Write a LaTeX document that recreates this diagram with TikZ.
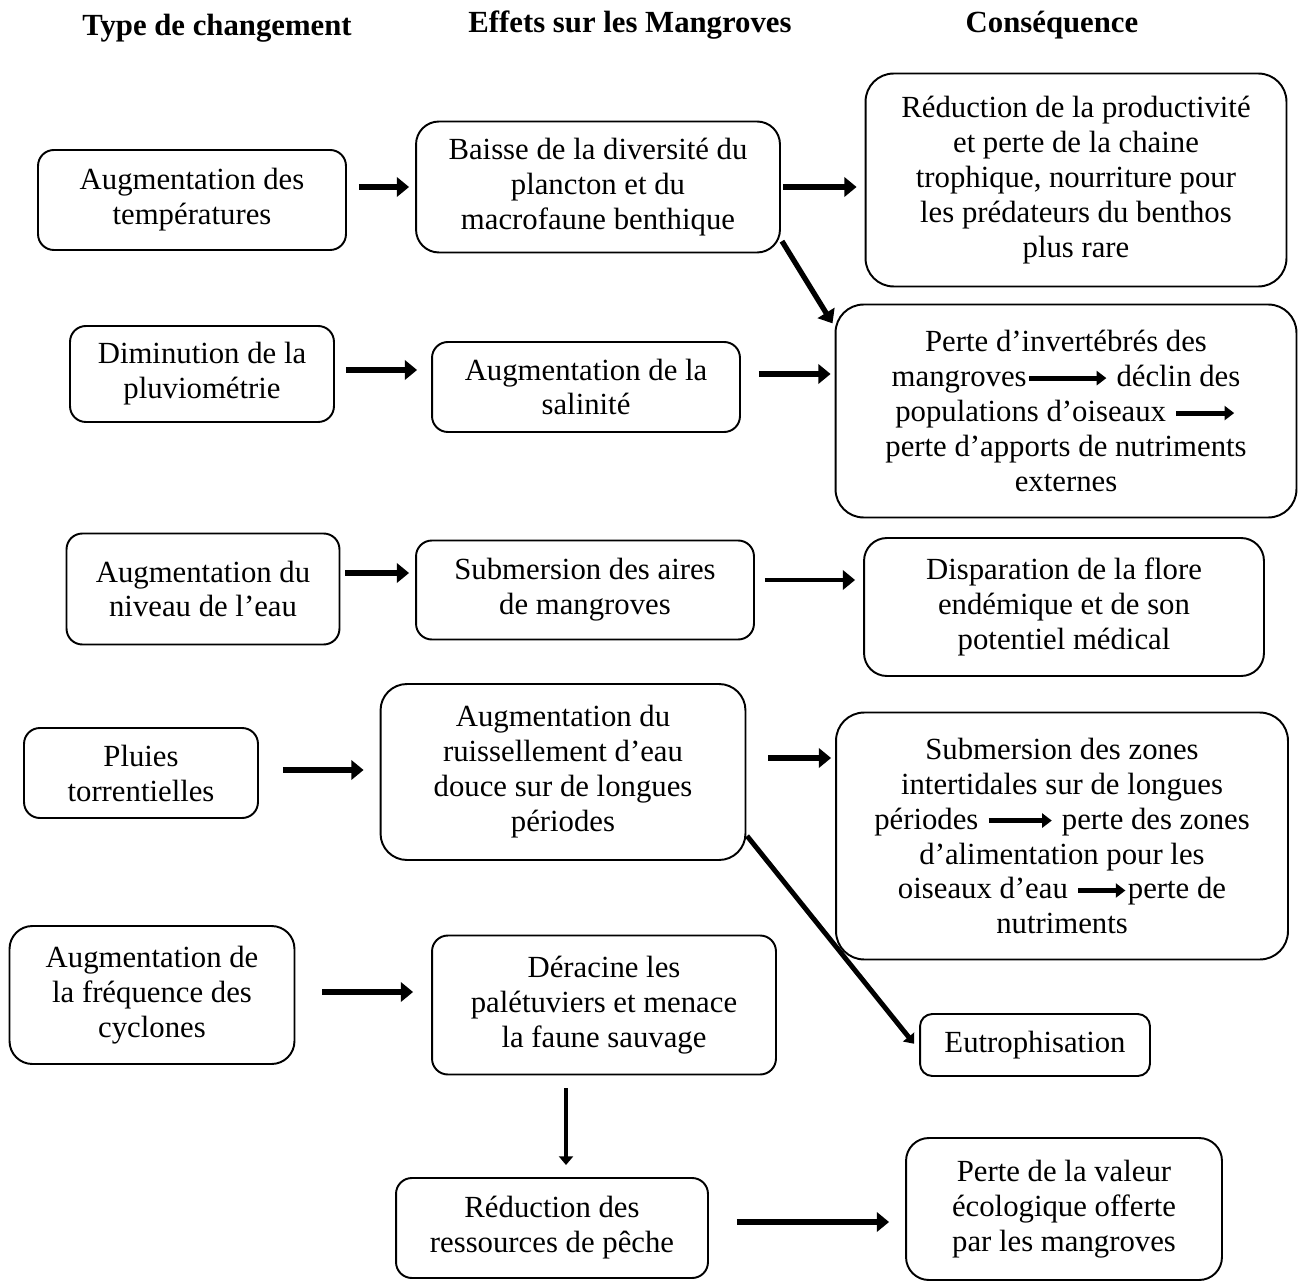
\documentclass[tikz,border=0pt]{standalone}
\usepackage{fontspec}
\setmainfont{Liberation Serif}
\usetikzlibrary{arrows.meta,calc}
\tikzset{%
  % Specifications for style of nodes:
    base/.style = {rectangle, rounded corners=9pt, draw=black, line width=1.1pt,
                   inner sep=0pt, align=center,
                   font=\fontsize{17.5}{19.9}\selectfont},
    cause/.style = {base},
    effet/.style = {base},
    consq/.style = {base, rounded corners=16pt},
    titre/.style = {font=\fontsize{17.5}{20}\selectfont\bfseries},
    fleche/.style = {line width=3.6pt, -{Triangle[length=7pt,width=11pt]}},
    fin/.style = {line width=2.4pt, -{Triangle[length=5pt,width=8pt]}}%
}
\newcommand{\tfleche}[1]{\tikz[baseline=-0.6ex]\draw[line width=2.8pt,-{Triangle[length=5.5pt,width=8pt]}] (0pt,0pt) -- (#1,0pt);}

\begin{document}
\begin{tikzpicture}[x=0.02cm,y=-0.02cm]
\useasboundingbox (0,0) rectangle (1298,1283);

% titres
\node[titre] (h1) at (217,28) {Type de changement};
\node[titre] (h2) at (630,25) {Effets sur les Mangroves};
\node[titre] (h3) at (1052,25) {Conséquence};

% type de changement
\node[cause, minimum width=6.16cm, minimum height=2cm] (a1) at (192,200) {Augmentation des\\températures};
\node[cause, minimum width=5.28cm, minimum height=1.92cm] (a2) at (202,374) {Diminution de la\\pluviométrie};
\node[cause, minimum width=5.46cm, minimum height=2.22cm] (a3) at (203,589) {Augmentation du\\niveau de l’eau};
\node[cause, minimum width=4.68cm, minimum height=1.8cm] (a4) at (141,773) {Pluies\\torrentielles};
\node[cause, minimum width=5.7cm, minimum height=2.76cm, rounded corners=13pt] (a5) at (152,995) {Augmentation de\\la fréquence des\\cyclones};

% effets
\node[effet, minimum width=7.28cm, minimum height=2.62cm, rounded corners=13pt] (b1) at (598,187) {Baisse de la diversité du\\plancton et du\\macrofaune benthique};
\node[effet, minimum width=6.16cm, minimum height=1.8cm] (b2) at (586,387) {Augmentation de la\\salinité};
\node[effet, minimum width=6.76cm, minimum height=1.98cm] (b3) at (585,590) {Submersion des aires\\de mangroves};
\node[effet, minimum width=7.3cm, minimum height=3.52cm, rounded corners=15pt] (b4) at (563,772) {Augmentation du\\ruissellement d’eau\\douce sur de longues\\périodes};
\node[effet, minimum width=6.88cm, minimum height=2.78cm] (b5) at (604,1005) {Déracine les\\palétuviers et menace\\la faune sauvage};
\node[effet, minimum width=6.24cm, minimum height=2cm] (b6) at (552,1228) {Réduction des\\ressources de pêche};

% consequences
\node[consq, minimum width=8.42cm, minimum height=4.26cm] (c1) at (1076,180) {Réduction de la productivité\\et perte de la chaine\\trophique, nourriture pour\\les prédateurs du benthos\\plus rare};
\node[consq, minimum width=9.22cm, minimum height=4.26cm] (c2) at (1066,411) {Perte d’invertébrés des\\mangroves\tfleche{44pt} déclin des\\populations d’oiseaux \tfleche{33pt}\\perte d’apports de nutriments\\externes};
\node[consq, minimum width=8cm, minimum height=2.76cm, rounded corners=13pt] (c3) at (1064,607) {Disparation de la flore\\endémique et de son\\potentiel médical};
\node[consq, minimum width=9.04cm, minimum height=4.94cm] (c4) at (1062,836) {Submersion des zones\\intertidales sur de longues\\périodes \tfleche{36pt} perte des zones\\d’alimentation pour les\\oiseaux d’eau \tfleche{27pt}perte de\\nutriments};
\node[effet, minimum width=4.6cm, minimum height=1.24cm, rounded corners=7pt] (eu) at (1035,1045) {Eutrophisation};
\node[consq, minimum width=6.32cm, minimum height=2.84cm, rounded corners=13pt] (c6) at (1064,1209) {Perte de la valeur\\écologique offerte\\par les mangroves};

% fleches
\draw[fleche, shorten <=0.24cm, shorten >=0.12cm] (a1.east |- b1) -- (b1.west);
\draw[fleche, shorten <=0.04cm, shorten >=0.16cm] (b1.east) -- (b1.east -| c1.west);
\draw[fleche, line width=3pt, shorten <=0.04cm, shorten >=0.08cm] (b1.-16) -- (c2.160);

\draw[fleche, shorten <=0.22cm, shorten >=0.28cm] ([yshift=0.08cm]a2.east) -- ([yshift=0.08cm]a2.east -| b2.west);
\draw[fleche, shorten <=0.36cm, shorten >=0.08cm] ([yshift=0.26cm]b2.east) -- ([yshift=0.26cm]b2.east -| c2.west);

\draw[fleche, shorten <=0.1cm, shorten >=0.12cm] ([yshift=0.32cm]a3.east) -- ([yshift=0.32cm]a3.east -| b3.west);
\draw[fleche, line width=2.8pt, shorten <=0.2cm, shorten >=0.16cm] ([yshift=0.2cm]b3.east) -- ([yshift=0.2cm]b3.east -| c3.west);

\draw[fleche, shorten <=0.48cm, shorten >=0.32cm] ([yshift=0.06cm]a4.east) -- ([yshift=0.06cm]a4.east -| b4.west);
\draw[fleche, shorten <=0.44cm, shorten >=0.08cm] ([yshift=0.28cm]b4.east) -- ([yshift=0.28cm]b4.east -| c4.west);
\draw[fin, line width=2.8pt, shorten <=0.02cm, shorten >=0.16cm] (b4.-19) -- ([yshift=-0.1cm]eu.west);

\draw[fleche, shorten <=0.54cm, shorten >=0.36cm] ([yshift=0.06cm]a5.east) -- ([yshift=0.06cm]a5.east -| b5.west);
\draw[fin, shorten <=0.26cm, shorten >=0.24cm] ([xshift=-0.76cm]b5.south) -- ([xshift=-0.76cm]b5.south |- b6.north);
\draw[fleche, shorten <=0.56cm, shorten >=0.32cm] ([yshift=0.12cm]b6.east) -- ([yshift=0.12cm]b6.east -| c6.west);

\end{tikzpicture}
\end{document}
